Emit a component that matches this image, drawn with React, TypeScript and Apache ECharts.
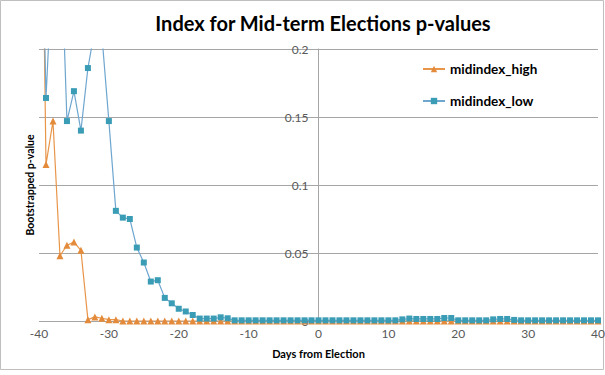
import React, { useEffect, useRef } from "react";
import * as echarts from "echarts";

const days = [
  -40, -39, -38, -37, -36, -35, -34, -33, -32, -31, -30, -29, -28, -27, -26, -25, -24, -23, -22, -21,
  -20, -19, -18, -17, -16, -15, -14, -13, -12, -11, -10, -9, -8, -7, -6, -5, -4, -3, -2, -1,
  0, 1, 2, 3, 4, 5, 6, 7, 8, 9, 10, 11, 12, 13, 14, 15, 16, 17, 18, 19,
  20, 21, 22, 23, 24, 25, 26, 27, 28, 29, 30, 31, 32, 33, 34, 35, 36, 37, 38, 39, 40,
];

const midindexHigh = [
  0.5, 0.115, 0.147, 0.048, 0.0557, 0.058, 0.052, 0.001, 0.003, 0.002, 0.001, 0.001, 0, 0, 0, 0, 0, 0, 0, 0,
  0, 0, 0, 0, 0, 0, 0, 0, 0, 0, 0, 0, 0, 0, 0, 0, 0, 0, 0, 0,
  0, 0, 0, 0, 0, 0, 0, 0, 0, 0, 0, 0, 0, 0, 0, 0, 0, 0, 0, 0,
  0, 0, 0, 0, 0, 0, 0, 0, 0, 0, 0, 0, 0, 0, 0, 0, 0, 0, 0, 0, 0,
];

const midindexLow = [
  0.4, 0.164, 0.27, 0.3, 0.147, 0.169, 0.14, 0.186, 0.215, 0.21, 0.147, 0.081, 0.076, 0.075, 0.054, 0.043, 0.029, 0.03, 0.017, 0.013,
  0.009, 0.007, 0.0044, 0.0018, 0.0018, 0.0018, 0.0027, 0.002, 0.0005, 0.0005, 0.0005, 0.0005, 0.0005, 0.0005, 0.0005, 0.0005, 0.0005, 0.0005, 0.0005, 0.0005,
  0.0005, 0.0005, 0.0005, 0.0005, 0.0005, 0.0005, 0.0005, 0.0005, 0.0005, 0.0005, 0.0005, 0.0005, 0.0012, 0.0018, 0.0015, 0.0015, 0.0015, 0.0015, 0.0022, 0.0022,
  0.0005, 0.0005, 0.0005, 0.0005, 0.0005, 0.0012, 0.0015, 0.0015, 0.0008, 0.0005, 0.0005, 0.0005, 0.0005, 0.0005, 0.0005, 0.0005, 0.0005, 0.0005, 0.0005, 0.0005, 0.0005,
];

const yTicks = ["0", "0.05", "0.1", "0.15", "0.2"];

export default function App() {
  const ref = useRef<HTMLDivElement>(null);
  useEffect(() => {
    document.body.style.margin = "0";
    if (!ref.current) return;
    const chart = echarts.init(ref.current, null, { renderer: "svg" });
    const font = "Lato, 'Open Sans', sans-serif";
    const gridLeft = 39;
    const gridRight = 7;
    const plotW = 605 - gridLeft - gridRight;
    const zeroOffset = plotW / 2;
    chart.setOption({
      animation: false,
      backgroundColor: "#ffffff",
      textStyle: { fontFamily: font },
      title: {
        text: "Index for Mid-term Elections p-values",
        left: 318,
        top: 8,
        textAlign: "center",
        textStyle: { fontFamily: font, fontWeight: "bold", fontSize: 20, color: "#000" },
      },
      legend: {
        orient: "vertical",
        left: 417,
        top: 57,
        itemWidth: 22,
        itemHeight: 8,
        itemGap: 18,
        textStyle: { fontFamily: font, fontWeight: "bold", fontSize: 13.5, color: "#000" },
        data: ["midindex_high", "midindex_low"],
      },
      graphic: [
        {
          type: "rect",
          shape: { x: 0.5, y: 0.5, width: 603, height: 369 },
          style: { fill: "none", stroke: "#bfbfbf", lineWidth: 1 },
          silent: true,
        },
        {
          type: "text",
          x: 30,
          y: 185,
          rotation: Math.PI / 2,
          style: {
            text: "Bootstrapped p-value",
            fontFamily: font,
            fontWeight: "bold",
            fontSize: 10.5,
            fill: "#000",
            align: "center",
            verticalAlign: "middle",
          },
          silent: true,
        },
      ],
      grid: {
        left: gridLeft,
        right: gridRight,
        top: 49,
        bottom: 54,
        containLabel: false,
        outerBoundsMode: "none",
      },
      xAxis: {
        type: "value",
        min: -40,
        max: 40,
        interval: 10,
        name: "Days from Election",
        nameLocation: "middle",
        nameGap: 27,
        nameTextStyle: { fontFamily: font, fontWeight: "bold", fontSize: 11, color: "#000" },
        axisLine: { show: false },
        axisTick: { show: false },
        splitLine: { show: false },
        axisLabel: { color: "#595959", fontSize: 12, margin: 6, fontFamily: font },
      },
      yAxis: {
        type: "value",
        min: 0,
        max: 0.2,
        interval: 0.05,
        offset: -zeroOffset,
        axisLine: { show: true, onZero: false, lineStyle: { color: "#a6a6a6", width: 1 } },
        axisTick: { show: false },
        splitLine: { show: true, lineStyle: { color: "#a6a6a6", width: 1 } },
        axisLabel: {
          color: "#595959",
          fontSize: 12,
          margin: 10,
          fontFamily: font,
          formatter: (v: number) => {
            const idx = Math.round(v / 0.05);
            return yTicks[idx] ?? String(v);
          },
        },
      },
      series: [
        {
          name: "midindex_high",
          type: "line",
          clip: true,
          data: days.map((d, i) => [d, midindexHigh[i]]),
          symbol: "triangle",
          symbolSize: 7,
          lineStyle: { color: "#E8954A", width: 1.2 },
          itemStyle: { color: "#E38B3A" },
          z: 2,
        },
        {
          name: "midindex_low",
          type: "line",
          clip: true,
          data: days.map((d, i) => [d, midindexLow[i]]),
          symbol: "rect",
          symbolSize: 6,
          lineStyle: { color: "#6EA6CF", width: 1.2 },
          itemStyle: { color: "#3A9DB5" },
          z: 3,
        },
      ],
    });
    return () => chart.dispose();
  }, []);
  return <div ref={ref} style={{ width: 605, height: 375 }} />;
}
